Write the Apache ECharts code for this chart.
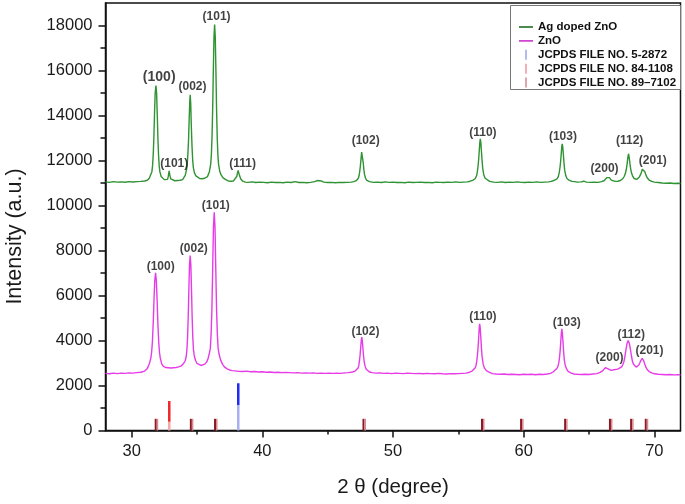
<!DOCTYPE html>
<html><head><meta charset="utf-8">
<script src="https://cdn.jsdelivr.net/npm/echarts@6/dist/echarts.min.js"></script>
<style>html,body{margin:0;padding:0;background:#fff}#c{width:685px;height:504px}</style>
</head><body><div id="c"></div>
<script>
// ---------- tick labels ----------
const xTicks = [30, 40, 50, 60, 70];
const xMinorTicks = [35, 45, 55, 65];
const yTicks = [0, 2000, 4000, 6000, 8000, 10000, 12000, 14000, 16000, 18000];
const yMinorTicks = [1000, 3000, 5000, 7000, 9000, 11000, 13000, 15000, 17000];

// ---------- Ag doped ZnO pattern [2theta, intensity] ----------
const agDoped = [
[28.0,11050],[28.3,11030],[28.6,11060],[28.9,11040],[29.2,11050],[29.5,11035],[29.8,11060],[30.1,11045],[30.4,11060],[30.7,11070],
[31.0,11090],[31.2,11120],[31.25,11150],[31.35,11210],[31.45,11290],[31.55,11505],[31.6,11760],[31.65,12230],[31.7,12990],[31.75,14055],
[31.8,14990],[31.86,15330],[31.91,14990],[31.96,14055],[32.01,12990],[32.06,12230],[32.11,11760],[32.16,11505],[32.26,11290],[32.36,11210],
[32.5,11150],[32.65,11120],[32.75,11160],[32.8,11280],[32.87,11540],[32.93,11330],[33.0,11180],[33.1,11120],[33.3,11100],[33.5,11110],
[33.7,11120],[33.9,11150],[34.0,11230],[34.1,11340],[34.2,11580],[34.25,11800],[34.3,12260],[34.35,12830],[34.4,13780],[34.45,14650],
[34.48,14920],[34.52,14540],[34.57,13480],[34.62,12640],[34.67,12030],[34.72,11690],[34.8,11460],[34.9,11330],[35.0,11260],[35.2,11200],
[35.4,11190],[35.6,11210],[35.8,11280],[35.85,11360],[35.95,11500],[36.05,11840],[36.1,12250],[36.15,13010],[36.2,14250],[36.25,15970],
[36.3,17490],[36.35,18040],[36.4,17490],[36.45,15970],[36.5,14250],[36.55,13010],[36.6,12250],[36.65,11840],[36.75,11500],[36.85,11360],
[37.0,11230],[37.2,11150],[37.4,11090],[37.6,11080],[37.8,11090],[37.95,11150],[38.05,11300],[38.1,11450],[38.15,11556],[38.2,11480],
[38.25,11340],[38.35,11180],[38.5,11080],[38.7,11040],[38.9,11030],[39.2,11050],[39.5,11020],[39.8,11040],[40.1,11030],[40.4,11010],
[40.7,11040],[41.0,11020],[41.3,11030],[41.6,11010],[41.9,11040],[42.2,11020],[42.5,11060],[42.8,11020],[43.1,11030],[43.4,11010],
[43.7,11030],[44.0,11060],[44.2,11110],[44.34,11140],[44.5,11090],[44.7,11040],[45.0,11020],[45.3,11030],[45.6,11010],[45.9,11030],
[46.2,11020],[46.5,11030],[46.8,11040],[47.0,11060],[47.2,11110],[47.3,11160],[47.35,11210],[47.4,11320],[47.45,11500],[47.5,11740],
[47.55,12050],[47.6,12370],[47.63,12444],[47.67,12300],[47.72,11910],[47.77,11600],[47.82,11380],[47.9,11210],[48.0,11120],[48.2,11060],
[48.5,11030],[48.8,11040],[49.1,11020],[49.4,11050],[49.7,11030],[50.0,11040],[50.3,11020],[50.6,11030],[50.9,11010],[51.2,11040],
[51.5,11020],[51.8,11030],[52.1,11040],[52.4,11020],[52.7,11030],[53.0,11010],[53.3,11040],[53.6,11030],[53.9,11020],[54.2,11040],
[54.5,11030],[54.8,11050],[55.1,11030],[55.4,11040],[55.7,11050],[55.9,11080],[56.1,11120],[56.25,11180],[56.3,11200],[56.4,11330],
[56.45,11480],[56.5,11710],[56.55,12010],[56.6,12430],[56.65,12830],[56.68,12960],[56.72,12810],[56.77,12390],[56.82,11970],[56.87,11630],
[56.95,11360],[57.05,11210],[57.2,11130],[57.4,11070],[57.7,11040],[58.0,11030],[58.3,11050],[58.6,11020],[58.9,11040],[59.2,11030],
[59.5,11050],[59.8,11030],[60.1,11020],[60.4,11040],[60.7,11030],[61.0,11050],[61.3,11030],[61.6,11040],[61.9,11050],[62.1,11070],
[62.3,11110],[62.45,11160],[62.55,11180],[62.65,11280],[62.72,11460],[62.78,11700],[62.83,11980],[62.88,12340],[62.92,12640],[62.95,12740],
[62.99,12610],[63.04,12240],[63.09,11850],[63.14,11560],[63.22,11330],[63.32,11190],[63.5,11120],[63.7,11070],[63.9,11060],[64.1,11040],
[64.4,11050],[64.6,11080],[64.8,11040],[65.1,11030],[65.4,11040],[65.7,11030],[65.95,11060],[66.15,11100],[66.3,11170],[66.38,11240],
[66.47,11300],[66.56,11240],[66.7,11130],[66.85,11080],[67.0,11070],[67.2,11080],[67.4,11110],[67.5,11150],[67.6,11200],[67.7,11300],
[67.78,11420],[67.85,11600],[67.91,11830],[67.97,12130],[68.02,12300],[68.07,12150],[68.13,11860],[68.19,11620],[68.26,11430],[68.35,11290],
[68.45,11200],[68.55,11160],[68.65,11160],[68.75,11200],[68.85,11270],[68.95,11380],[69.02,11500],[69.08,11610],[69.14,11660],[69.2,11610],
[69.27,11500],[69.35,11360],[69.45,11230],[69.6,11130],[69.8,11070],[70.0,11040],[70.3,11020],[70.6,11000],[70.9,10990],[71.2,11000],
[71.5,10980],[71.8,10990],[72.0,10980]
];

// ---------- ZnO pattern [2theta, intensity] ----------
const zno = [
[28.0,2540],[28.3,2520],[28.6,2550],[28.9,2530],[29.2,2550],[29.5,2540],[29.8,2560],[30.1,2550],[30.4,2570],[30.7,2590],
[31.0,2640],[31.2,2760],[31.35,2955],[31.47,3217],[31.53,3478],[31.59,3958],[31.65,4743],[31.71,5789],[31.77,6661],[31.83,7010],
[31.89,6661],[31.95,5789],[32.01,4743],[32.07,3958],[32.13,3478],[32.19,3217],[32.31,2955],[32.43,2850],[32.6,2800],[32.8,2790],
[33.0,2780],[33.2,2790],[33.4,2800],[33.6,2830],[33.8,2870],[33.9,2920],[34.0,3000],[34.1,3100],[34.18,3300],[34.23,3600],
[34.28,4150],[34.33,5040],[34.38,6290],[34.43,7380],[34.48,7780],[34.53,7380],[34.58,6290],[34.63,5040],[34.68,4150],[34.73,3600],
[34.8,3300],[34.9,3100],[35.0,2980],[35.15,2920],[35.3,2890],[35.45,2900],[35.6,2950],[35.75,3050],[35.85,3200],[35.95,3440],
[36.02,3650],[36.08,4260],[36.14,5350],[36.2,7120],[36.26,9020],[36.32,9700],[36.38,9020],[36.44,7120],[36.5,5350],[36.56,4260],
[36.62,3650],[36.69,3400],[36.8,3150],[36.95,2950],[37.1,2830],[37.3,2740],[37.5,2690],[37.7,2660],[37.9,2650],[38.2,2630],
[38.5,2620],[38.8,2640],[39.1,2610],[39.4,2620],[39.7,2600],[40.0,2610],[40.3,2590],[40.6,2600],[40.9,2580],[41.2,2590],
[41.5,2570],[41.8,2580],[42.1,2570],[42.4,2560],[42.7,2570],[43.0,2550],[43.3,2560],[43.6,2550],[43.9,2560],[44.2,2540],
[44.5,2550],[44.8,2540],[45.1,2550],[45.4,2540],[45.7,2550],[46.0,2540],[46.3,2560],[46.6,2570],[46.9,2600],[47.1,2640],
[47.22,2700],[47.33,2780],[47.38,2880],[47.43,3080],[47.48,3350],[47.53,3700],[47.57,3990],[47.61,4150],[47.65,3990],[47.7,3640],
[47.75,3290],[47.8,3040],[47.87,2850],[47.95,2720],[48.05,2650],[48.2,2600],[48.4,2570],[48.7,2550],[49.0,2560],[49.3,2540],
[49.6,2550],[49.9,2530],[50.2,2550],[50.5,2540],[50.8,2530],[51.1,2550],[51.4,2540],[51.7,2530],[52.0,2540],[52.3,2520],
[52.6,2540],[52.9,2530],[53.2,2520],[53.5,2540],[53.8,2520],[54.1,2510],[54.4,2530],[54.7,2520],[55.0,2530],[55.3,2540],
[55.6,2550],[55.85,2590],[56.05,2640],[56.2,2700],[56.28,2780],[56.35,2880],[56.41,3080],[56.46,3340],[56.51,3690],[56.56,4170],
[56.6,4590],[56.63,4740],[56.67,4590],[56.72,4130],[56.77,3650],[56.82,3270],[56.9,2950],[57.0,2770],[57.15,2660],[57.35,2590],
[57.6,2530],[57.9,2510],[58.2,2500],[58.5,2510],[58.8,2490],[59.1,2500],[59.4,2490],[59.7,2480],[60.0,2500],[60.3,2490],
[60.6,2500],[60.9,2480],[61.2,2500],[61.5,2490],[61.8,2510],[62.05,2540],[62.25,2600],[62.4,2660],[62.5,2730],[62.6,2820],
[62.68,2980],[62.74,3220],[62.79,3540],[62.84,3970],[62.88,4320],[62.92,4520],[62.96,4320],[63.01,3930],[63.06,3480],[63.11,3140],
[63.18,2900],[63.27,2750],[63.4,2630],[63.6,2560],[63.85,2510],[64.1,2500],[64.4,2490],[64.7,2500],[65.0,2490],[65.3,2510],
[65.6,2530],[65.85,2580],[66.05,2660],[66.15,2720],[66.25,2790],[66.32,2810],[66.4,2790],[66.5,2730],[66.6,2680],[66.7,2670],
[66.8,2680],[66.9,2700],[67.0,2710],[67.2,2730],[67.33,2760],[67.5,2830],[67.58,2920],[67.67,3060],[67.75,3310],[67.83,3610],
[67.92,3890],[68.0,4000],[68.08,3880],[68.17,3600],[68.25,3300],[68.33,3050],[68.42,2930],[68.5,2860],[68.6,2820],[68.7,2830],
[68.8,2900],[68.9,3020],[68.97,3120],[69.02,3180],[69.07,3210],[69.12,3180],[69.18,3100],[69.26,2960],[69.35,2820],[69.45,2710],
[69.6,2620],[69.8,2560],[70.0,2520],[70.3,2500],[70.6,2490],[70.9,2480],[71.2,2490],[71.5,2470],[71.8,2480],[72.0,2470]
];

// ---------- peak annotations [2theta, intensity, text] ----------
const agLabels = [
[32.11,15690,'(100)'],[33.26,11850,'(101)'],[34.66,15290,'(002)'],[36.50,18370,'(101)'],[38.49,11850,'(111)'],
[47.91,12890,'(102)'],[56.88,13230,'(110)'],[63.00,13070,'(103)'],[66.19,11630,'(200)'],[68.11,12860,'(112)'],[69.88,12000,'(201)']
];
const znoLabels = [
[32.22,7290,'(100)'],[34.76,8070,'(002)'],[36.44,10000,'(101)'],[47.89,4370,'(102)'],[56.88,5040,'(110)'],
[63.30,4770,'(103)'],[66.57,3230,'(200)'],[68.23,4250,'(112)'],[69.63,3560,'(201)']
];

// ---------- JCPDS reference lines [2theta, height] ----------
const jcpds5_2872 = [[38.16,2100]];
const jcpds84_1108 = [[32.88,1310]];
const jcpds89_7102 = [[31.88,520],[34.57,520],[36.42,520],[47.78,520],[56.85,520],[59.84,520],[63.21,520],[66.64,520],[68.26,520],[69.38,520]];

// ---------- chart ----------
const FONT = '"Liberation Sans", Arial, Helvetica, sans-serif';
const chart = echarts.init(document.getElementById('c'), null, {renderer: 'canvas'});

function twoToneSticks(name, data, bright, light, fadeLevel, w) {
  return {
    type: 'custom', name: name, data: data, z: 4, silent: true,
    itemStyle: {color: light},
    renderItem: function (params, api) {
      const x = api.value(0), h = api.value(1);
      const p0 = api.coord([x, 0]);
      const p1 = api.coord([x, h]);
      const pf = api.coord([x, Math.min(fadeLevel, h)]);
      return {type: 'group', children: [
        {type: 'rect', shape: {x: p0[0] - w / 2, y: pf[1], width: w, height: p0[1] - pf[1]}, style: {fill: light}},
        {type: 'rect', shape: {x: p0[0] - w / 2, y: p1[1], width: w, height: pf[1] - p1[1]}, style: {fill: bright}}
      ]};
    }
  };
}
function pairSticks(name, data, dark, light) {
  return {
    type: 'custom', name: name, data: data, z: 4, silent: true,
    itemStyle: {color: light},
    renderItem: function (params, api) {
      const x = api.value(0), h = api.value(1);
      const p0 = api.coord([x, 0]);
      const p1 = api.coord([x, h]);
      return {type: 'group', children: [
        {type: 'rect', shape: {x: p0[0] - 1.5, y: p1[1], width: 2, height: p0[1] - p1[1]}, style: {fill: dark}},
        {type: 'rect', shape: {x: p0[0] + 0.5, y: p1[1], width: 1.5, height: p0[1] - p1[1]}, style: {fill: light}}
      ]};
    }
  };
}
function labelSeries(list, bigText) {
  return {
    type: 'scatter', symbol: 'circle', symbolSize: 1, silent: true, z: 6,
    itemStyle: {color: 'rgba(0,0,0,0)'},
    data: list.map(function (d) {
      const item = {value: [d[0], d[1]], name: d[2]};
      if (bigText && d[2] === bigText) item.label = {fontSize: 14};
      return item;
    }),
    label: {show: true, position: 'inside', formatter: function (p) { return p.name; },
            fontFamily: FONT, fontWeight: 'bold', fontSize: 12, color: '#111'}
  };
}

const lineIcon = 'path://M0,0H14V1.6H0Z';
const tickIcon = 'path://M0,0H1.6V8H0Z';

const option = {
  animation: false,
  backgroundColor: '#fff',
  grid: {left: 105.5, right: 4.5, top: 3, bottom: 73.5, show: true, borderColor: '#111', borderWidth: 1.5, backgroundColor: 'transparent'},
  xAxis: [
    {type: 'value', min: 28, max: 72, position: 'bottom',
     axisLine: {show: true, lineStyle: {color: '#111', width: 1.5}},
     axisTick: {show: true, customValues: xTicks, length: 7, lineStyle: {color: '#111', width: 1.5}},
     axisLabel: {show: true, customValues: xTicks, margin: 12, fontFamily: FONT, fontSize: 16.5, color: '#1a1a1a',
                 formatter: function (v) { return String(v); }},
     splitLine: {show: false}},
    {type: 'value', min: 28, max: 72, position: 'bottom',
     axisLine: {show: false},
     axisTick: {show: true, customValues: xMinorTicks, length: 4, lineStyle: {color: '#111', width: 1.5}},
     axisLabel: {show: false}, splitLine: {show: false}}
  ],
  yAxis: [
    {type: 'value', min: 0, max: 19000, position: 'left',
     axisLine: {show: true, lineStyle: {color: '#111', width: 1.5}},
     axisTick: {show: true, customValues: yTicks, length: 7, lineStyle: {color: '#111', width: 1.5}},
     axisLabel: {show: true, customValues: yTicks, margin: 13, fontFamily: FONT, fontSize: 16.5, color: '#1a1a1a',
                 formatter: function (v) { return String(v); }},
     splitLine: {show: false}},
    {type: 'value', min: 0, max: 19000, position: 'left',
     axisLine: {show: false},
     axisTick: {show: true, customValues: yMinorTicks, length: 5, lineStyle: {color: '#111', width: 1.5}},
     axisLabel: {show: false}, splitLine: {show: false}}
  ],
  legend: {
    orient: 'vertical', left: 519, top: 21, itemWidth: 14, itemHeight: 10, itemGap: 1.9,
    padding: 0, selectedMode: false, z: 20,
    textStyle: {fontFamily: FONT, fontWeight: 'bold', fontSize: 11.5, color: '#111', lineHeight: 11},
    data: [
      {name: 'Ag doped ZnO', icon: lineIcon, itemStyle: {color: '#1f6e22'}},
      {name: 'ZnO', icon: lineIcon, itemStyle: {color: '#cc33cc'}},
      {name: 'JCPDS FILE NO. 5-2872', icon: tickIcon, itemStyle: {color: '#b4bbee'}},
      {name: 'JCPDS FILE NO. 84-1108', icon: tickIcon, itemStyle: {color: '#f2b0b6'}},
      {name: 'JCPDS FILE NO. 89\u20137102', icon: tickIcon, itemStyle: {color: '#dca6ac'}}
    ]
  },
  graphic: [
    {type: 'rect', left: 510, top: 5, shape: {width: 170, height: 84}, z: 1,
     style: {fill: '#fff', stroke: '#777', lineWidth: 1}},
    {type: 'text', x: 15, y: 236.5, rotation: Math.PI / 2, z: 10,
     style: {text: 'Intensity (a.u.)', fontFamily: FONT, fontSize: 21.5, fill: '#1a1a1a', align: 'center', verticalAlign: 'middle'}},
    {type: 'text', x: 393, y: 487, z: 10,
     style: {text: '2 \u03b8 (degree)', fontFamily: FONT, fontSize: 20.5, fill: '#1a1a1a', align: 'center', verticalAlign: 'middle'}}
  ],
  series: [
    {type: 'line', name: 'Ag doped ZnO', data: agDoped, showSymbol: false, symbol: 'none', z: 3,
     lineStyle: {color: '#2f9233', width: 1.4}, itemStyle: {color: '#1f6e22'}},
    {type: 'line', name: 'ZnO', data: zno, showSymbol: false, symbol: 'none', z: 3,
     lineStyle: {color: '#e83be8', width: 1.4}, itemStyle: {color: '#cc33cc'}},
    twoToneSticks('JCPDS FILE NO. 5-2872', jcpds5_2872, '#1f2bf0', '#a9b0f2', 1130, 2.5),
    twoToneSticks('JCPDS FILE NO. 84-1108', jcpds84_1108, '#ee2a2a', '#f4a8a8', 390, 2.5),
    pairSticks('JCPDS FILE NO. 89\u20137102', jcpds89_7102, '#8b1822', '#d98890'),
    labelSeries(agLabels, '(100)'),
    labelSeries(znoLabels, null)
  ]
};
chart.setOption(option);
</script>
</body></html>
